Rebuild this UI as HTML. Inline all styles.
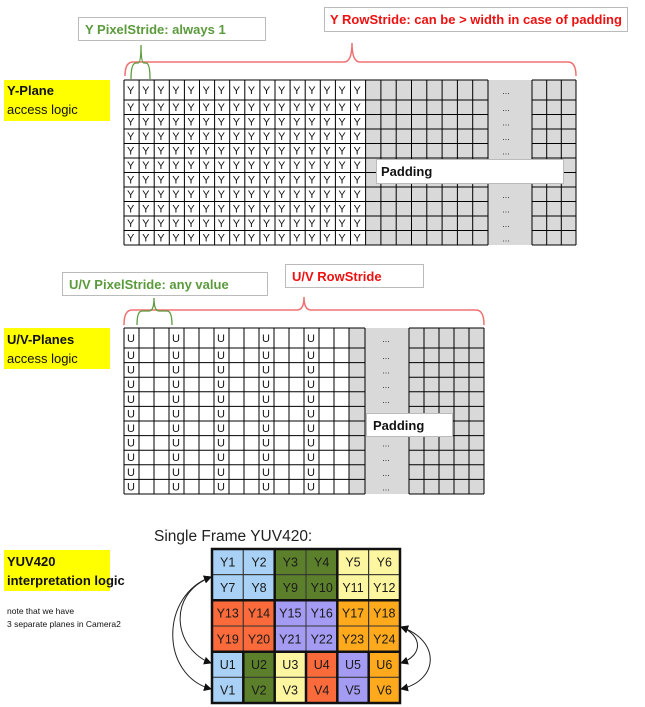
<!DOCTYPE html>
<html><head><meta charset="utf-8"><style>
html,body{margin:0;padding:0;background:#fff}
svg{display:block;font-family:"Liberation Sans",sans-serif}
.b{font-weight:bold}
</style></head><body>
<svg width="645" height="707" viewBox="0 0 645 707" xmlns="http://www.w3.org/2000/svg">
<defs>
<marker id="ah" markerWidth="8" markerHeight="8" refX="7" refY="4" orient="auto-start-reverse" markerUnits="userSpaceOnUse">
<path d="M0,0 L8,4 L0,8 z" fill="#111"/></marker>
</defs>

<!-- ===== Y PLANE ===== -->
<rect x="4" y="80" width="106" height="41" fill="#ffff00"/>
<text x="7" y="95" font-size="13" class="b" fill="#111">Y-Plane</text>
<text x="7" y="114" font-size="13" fill="#111">access logic</text>

<rect x="78.5" y="17.5" width="187" height="23" fill="#fff" stroke="#bbb"/>
<text x="85" y="34" font-size="13" class="b" fill="#5a9a3c">Y PixelStride: always 1</text>
<rect x="324.5" y="7.5" width="303" height="24" fill="#fff" stroke="#bbb"/>
<text x="330" y="24" font-size="13" class="b" fill="#ee1111">Y RowStride: can be &gt; width in case of padding</text>

<path d="M125,76 Q125,62 133,62 L344,62 Q352,62 352,43 Q352,62 360,62 L568,62 Q576,62 576,76" fill="none" stroke="#f07070" stroke-width="1.5"/>
<path d="M131,79 Q131,63 136,63 L138,63 Q141,63 141,45 Q141,63 144,63 L146,63 Q150,63 150,79" fill="none" stroke="#5a9a3c" stroke-width="1.3"/>

<rect x="365.6" y="80" width="210.4" height="165" fill="#d9d9d9"/>
<g stroke="#000" stroke-width="1">
<path d="M124,80V245M139.1,80V245M154.2,80V245M169.3,80V245M184.4,80V245M199.5,80V245M214.6,80V245M229.7,80V245M244.8,80V245M259.9,80V245M275,80V245M290.1,80V245M305.2,80V245M320.3,80V245M335.4,80V245M350.5,80V245M365.6,80V245M380.9,80V245M396.2,80V245M411.5,80V245M426.8,80V245M442.1,80V245M457.4,80V245M472.7,80V245M488,80V245M532,80V245M546.7,80V245M561.3,80V245M576,80V245"/>
<path d="M124,80H488M124,100H488M124,114.5H488M124,129H488M124,143.5H488M124,158H488M124,172.5H488M124,187H488M124,201.5H488M124,216H488M124,230.5H488M124,245H488"/>
<path d="M532,80H576M532,100H576M532,114.5H576M532,129H576M532,143.5H576M532,158H576M532,172.5H576M532,187H576M532,201.5H576M532,216H576M532,230.5H576M532,245H576"/>
</g>
<g font-size="11" fill="#111">
<text y="94" x="127 142.1 157.2 172.3 187.4 202.5 217.6 232.7 247.8 262.9 278 293.1 308.2 323.3 338.4 353.5">YYYYYYYYYYYYYYYY</text>
<text y="111" x="127 142.1 157.2 172.3 187.4 202.5 217.6 232.7 247.8 262.9 278 293.1 308.2 323.3 338.4 353.5">YYYYYYYYYYYYYYYY</text>
<text y="125.5" x="127 142.1 157.2 172.3 187.4 202.5 217.6 232.7 247.8 262.9 278 293.1 308.2 323.3 338.4 353.5">YYYYYYYYYYYYYYYY</text>
<text y="140" x="127 142.1 157.2 172.3 187.4 202.5 217.6 232.7 247.8 262.9 278 293.1 308.2 323.3 338.4 353.5">YYYYYYYYYYYYYYYY</text>
<text y="154.5" x="127 142.1 157.2 172.3 187.4 202.5 217.6 232.7 247.8 262.9 278 293.1 308.2 323.3 338.4 353.5">YYYYYYYYYYYYYYYY</text>
<text y="169" x="127 142.1 157.2 172.3 187.4 202.5 217.6 232.7 247.8 262.9 278 293.1 308.2 323.3 338.4 353.5">YYYYYYYYYYYYYYYY</text>
<text y="183.5" x="127 142.1 157.2 172.3 187.4 202.5 217.6 232.7 247.8 262.9 278 293.1 308.2 323.3 338.4 353.5">YYYYYYYYYYYYYYYY</text>
<text y="198" x="127 142.1 157.2 172.3 187.4 202.5 217.6 232.7 247.8 262.9 278 293.1 308.2 323.3 338.4 353.5">YYYYYYYYYYYYYYYY</text>
<text y="212.5" x="127 142.1 157.2 172.3 187.4 202.5 217.6 232.7 247.8 262.9 278 293.1 308.2 323.3 338.4 353.5">YYYYYYYYYYYYYYYY</text>
<text y="227" x="127 142.1 157.2 172.3 187.4 202.5 217.6 232.7 247.8 262.9 278 293.1 308.2 323.3 338.4 353.5">YYYYYYYYYYYYYYYY</text>
<text y="241.5" x="127 142.1 157.2 172.3 187.4 202.5 217.6 232.7 247.8 262.9 278 293.1 308.2 323.3 338.4 353.5">YYYYYYYYYYYYYYYY</text>
</g>
<g font-size="9" fill="#333" text-anchor="middle">
<text x="506" y="94">...</text><text x="506" y="111">...</text><text x="506" y="125.5">...</text><text x="506" y="140">...</text><text x="506" y="154.5">...</text><text x="506" y="169">...</text><text x="506" y="183.5">...</text><text x="506" y="198">...</text><text x="506" y="212.5">...</text><text x="506" y="227">...</text><text x="506" y="241.5">...</text>
</g>
<rect x="376.5" y="159.5" width="187" height="24" fill="#fff" stroke="#bbb"/>
<text x="381" y="176" font-size="13" class="b" fill="#111">Padding</text>

<!-- ===== U/V PLANE ===== -->
<rect x="4" y="328" width="106" height="41" fill="#ffff00"/>
<text x="7" y="344" font-size="13" class="b" fill="#111">U/V-Planes</text>
<text x="7" y="363" font-size="13" fill="#111">access logic</text>

<rect x="62.5" y="272.5" width="205" height="23" fill="#fff" stroke="#bbb"/>
<text x="69" y="289" font-size="13" class="b" fill="#5a9a3c">U/V PixelStride: any value</text>
<rect x="285.5" y="264.5" width="138" height="23" fill="#fff" stroke="#bbb"/>
<text x="292" y="281" font-size="13" class="b" fill="#ee1111">U/V RowStride</text>

<path d="M124,325 Q124,310 132,310 L297,310 Q304,310 304,297 Q304,310 311,310 L476,310 Q484,310 484,325" fill="none" stroke="#f07070" stroke-width="1.5"/>
<path d="M137,325 Q137,311 142,311 L149,311 Q154,311 154,298 Q154,311 159,311 L167,311 Q172,311 172,325" fill="none" stroke="#5a9a3c" stroke-width="1.3"/>

<rect x="349" y="328" width="135" height="166" fill="#d9d9d9"/>
<g stroke="#000" stroke-width="1">
<path d="M124,328V494M139,328V494M154,328V494M169,328V494M184,328V494M199,328V494M214,328V494M229,328V494M244,328V494M259,328V494M274,328V494M289,328V494M304,328V494M319,328V494M334,328V494M349,328V494M365,328V494M409,328V494M424,328V494M439,328V494M454,328V494M469,328V494M484,328V494"/>
<path d="M124,328H365M124,348H365M124,362.6H365M124,377.2H365M124,391.8H365M124,406.4H365M124,421H365M124,435.6H365M124,450.2H365M124,464.8H365M124,479.4H365M124,494H365"/>
<path d="M409,328H484M409,348H484M409,362.6H484M409,377.2H484M409,391.8H484M409,406.4H484M409,421H484M409,435.6H484M409,450.2H484M409,464.8H484M409,479.4H484M409,494H484"/>
</g>
<g font-size="11" fill="#111">
<text y="342" x="127 172 217 262 307">UUUUU</text>
<text y="359" x="127 172 217 262 307">UUUUU</text>
<text y="373.6" x="127 172 217 262 307">UUUUU</text>
<text y="388.2" x="127 172 217 262 307">UUUUU</text>
<text y="402.8" x="127 172 217 262 307">UUUUU</text>
<text y="417.4" x="127 172 217 262 307">UUUUU</text>
<text y="432" x="127 172 217 262 307">UUUUU</text>
<text y="446.6" x="127 172 217 262 307">UUUUU</text>
<text y="461.2" x="127 172 217 262 307">UUUUU</text>
<text y="475.8" x="127 172 217 262 307">UUUUU</text>
<text y="490.4" x="127 172 217 262 307">UUUUU</text>
</g>
<g font-size="9" fill="#333" text-anchor="middle">
<text x="386" y="342">...</text><text x="386" y="359">...</text><text x="386" y="373.6">...</text><text x="386" y="388.2">...</text><text x="386" y="402.8">...</text><text x="386" y="417.4">...</text><text x="386" y="432">...</text><text x="386" y="446.6">...</text><text x="386" y="461.2">...</text><text x="386" y="475.8">...</text><text x="386" y="490.4">...</text>
</g>
<rect x="366.5" y="413.5" width="86" height="23" fill="#fff" stroke="#bbb"/>
<text x="373" y="430" font-size="13" class="b" fill="#111">Padding</text>

<!-- ===== YUV420 ===== -->
<rect x="4" y="550" width="106" height="41" fill="#ffff00"/>
<text x="7" y="566" font-size="13" class="b" fill="#111">YUV420</text>
<text x="7" y="585" font-size="13" class="b" fill="#111">interpretation logic</text>
<text x="7" y="614" font-size="8.5" fill="#111">note that we have</text>
<text x="7" y="627" font-size="8.5" fill="#111">3 separate planes in Camera2</text>

<text x="154" y="541" font-size="15.5" fill="#222">Single Frame YUV420:</text>

<g stroke="#333" stroke-width="1">
<rect x="212" y="549" width="31.3" height="25.7" fill="#a8d1f5"/><rect x="243.3" y="549" width="31.3" height="25.7" fill="#a8d1f5"/>
<rect x="274.7" y="549" width="31.3" height="25.7" fill="#5b7f2a"/><rect x="306" y="549" width="31.3" height="25.7" fill="#5b7f2a"/>
<rect x="337.3" y="549" width="31.3" height="25.7" fill="#fdf6a0"/><rect x="368.7" y="549" width="31.3" height="25.7" fill="#fdf6a0"/>
<rect x="212" y="574.7" width="31.3" height="25.7" fill="#a8d1f5"/><rect x="243.3" y="574.7" width="31.3" height="25.7" fill="#a8d1f5"/>
<rect x="274.7" y="574.7" width="31.3" height="25.7" fill="#5b7f2a"/><rect x="306" y="574.7" width="31.3" height="25.7" fill="#5b7f2a"/>
<rect x="337.3" y="574.7" width="31.3" height="25.7" fill="#fdf6a0"/><rect x="368.7" y="574.7" width="31.3" height="25.7" fill="#fdf6a0"/>
<rect x="212" y="600.3" width="31.3" height="25.7" fill="#fa6a3a"/><rect x="243.3" y="600.3" width="31.3" height="25.7" fill="#fa6a3a"/>
<rect x="274.7" y="600.3" width="31.3" height="25.7" fill="#a39cf2"/><rect x="306" y="600.3" width="31.3" height="25.7" fill="#a39cf2"/>
<rect x="337.3" y="600.3" width="31.3" height="25.7" fill="#ffaa1c"/><rect x="368.7" y="600.3" width="31.3" height="25.7" fill="#ffaa1c"/>
<rect x="212" y="626" width="31.3" height="25.7" fill="#fa6a3a"/><rect x="243.3" y="626" width="31.3" height="25.7" fill="#fa6a3a"/>
<rect x="274.7" y="626" width="31.3" height="25.7" fill="#a39cf2"/><rect x="306" y="626" width="31.3" height="25.7" fill="#a39cf2"/>
<rect x="337.3" y="626" width="31.3" height="25.7" fill="#ffaa1c"/><rect x="368.7" y="626" width="31.3" height="25.7" fill="#ffaa1c"/>
<rect x="212" y="651.7" width="31.3" height="25.7" fill="#a8d1f5"/><rect x="243.3" y="651.7" width="31.3" height="25.7" fill="#5b7f2a"/>
<rect x="274.7" y="651.7" width="31.3" height="25.7" fill="#fdf6a0"/><rect x="306" y="651.7" width="31.3" height="25.7" fill="#fa6a3a"/>
<rect x="337.3" y="651.7" width="31.3" height="25.7" fill="#a39cf2"/><rect x="368.7" y="651.7" width="31.3" height="25.7" fill="#ffaa1c"/>
<rect x="212" y="677.3" width="31.3" height="25.7" fill="#a8d1f5"/><rect x="243.3" y="677.3" width="31.3" height="25.7" fill="#5b7f2a"/>
<rect x="274.7" y="677.3" width="31.3" height="25.7" fill="#fdf6a0"/><rect x="306" y="677.3" width="31.3" height="25.7" fill="#fa6a3a"/>
<rect x="337.3" y="677.3" width="31.3" height="25.7" fill="#a39cf2"/><rect x="368.7" y="677.3" width="31.3" height="25.7" fill="#ffaa1c"/>
</g>
<g fill="none" stroke="#111" stroke-width="2.5">
<rect x="212" y="549" width="188" height="154"/>
<path d="M274.7,549V651.7M337.3,549V651.7M212,600.3H400M212,651.7H400M243.3,651.7V703M274.7,651.7V703M306,651.7V703M337.3,651.7V703M368.7,651.7V703"/>
</g>
<g font-size="12.5" fill="#1a1a1a" text-anchor="middle">
<text x="227.7" y="566.5">Y1</text><text x="259" y="566.5">Y2</text><text x="290.3" y="566.5">Y3</text><text x="321.7" y="566.5">Y4</text><text x="353" y="566.5">Y5</text><text x="384.3" y="566.5">Y6</text>
<text x="227.7" y="592">Y7</text><text x="259" y="592">Y8</text><text x="290.3" y="592">Y9</text><text x="321.7" y="592">Y10</text><text x="353" y="592">Y11</text><text x="384.3" y="592">Y12</text>
<text x="227.7" y="617.7">Y13</text><text x="259" y="617.7">Y14</text><text x="290.3" y="617.7">Y15</text><text x="321.7" y="617.7">Y16</text><text x="353" y="617.7">Y17</text><text x="384.3" y="617.7">Y18</text>
<text x="227.7" y="643.3">Y19</text><text x="259" y="643.3">Y20</text><text x="290.3" y="643.3">Y21</text><text x="321.7" y="643.3">Y22</text><text x="353" y="643.3">Y23</text><text x="384.3" y="643.3">Y24</text>
<text x="227.7" y="669">U1</text><text x="259" y="669">U2</text><text x="290.3" y="669">U3</text><text x="321.7" y="669">U4</text><text x="353" y="669">U5</text><text x="384.3" y="669">U6</text>
<text x="227.7" y="694.7">V1</text><text x="259" y="694.7">V2</text><text x="290.3" y="694.7">V3</text><text x="321.7" y="694.7">V4</text><text x="353" y="694.7">V5</text><text x="384.3" y="694.7">V6</text>
</g>
<g fill="none" stroke="#222" stroke-width="1">
<path d="M211,663 C175,650 165,595 211,577" marker-start="url(#ah)" marker-end="url(#ah)"/>
<path d="M211,689 C160,675 160,595 211,577" marker-start="url(#ah)" marker-end="url(#ah)"/>
<path d="M401,627 C422,635 424,655 401,663" marker-start="url(#ah)" marker-end="url(#ah)"/>
<path d="M401,627 C440,640 440,680 401,689" marker-start="url(#ah)" marker-end="url(#ah)"/>
</g>
</svg>
</body></html>
